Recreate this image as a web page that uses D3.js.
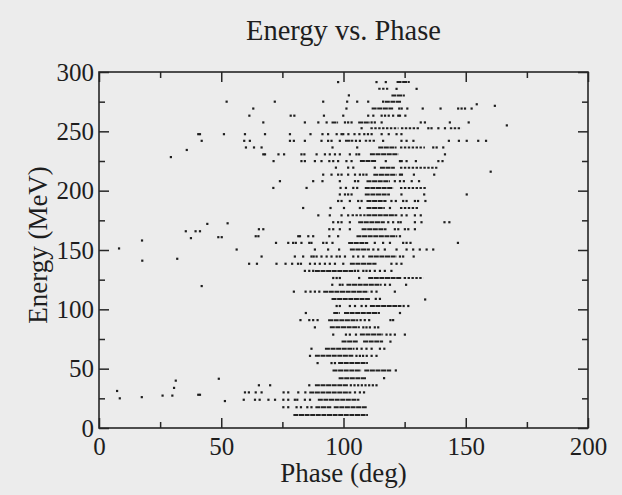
<!DOCTYPE html>
<html><head><meta charset="utf-8">
<script src="https://cdn.jsdelivr.net/npm/d3@7"></script>
<style>html,body{margin:0;padding:0;background:#ececec;} svg{display:block}</style>
</head><body><svg id="c" width="622" height="495"></svg>
<script>
// ---- data (phase in deg, energy in MeV) ----
const title = "Energy vs. Phase";
const xLabel = "Phase (deg)";
const yLabel = "Energy (MeV)";
const xTicks = [0, 50, 100, 150, 200];
const xMinor = [25, 75, 125, 175];
const yTicks = [0, 50, 100, 150, 200, 250, 300];
const yMinor = [25, 75, 125, 175, 225, 275];

const rowEnergy = [11, 17.5, 23.8, 30, 36, 42, 48.5, 54.7, 60.8, 66.8, 72.8, 78.7, 84.8, 90.9, 96.9,
  102.8, 108.8, 114.9, 120.7, 126.4, 132.4, 138.4, 144.5, 150.4, 156, 161.6, 167.5, 173.4, 179.2,
  185.4, 191.3, 196.8, 202.3, 208, 213.5, 219.4, 224.9, 230.6, 236.4, 242, 247.6, 252.6, 257.5,
  263.2, 269.2, 275, 280.3, 285.8, 291.5];

const rowDots = [
  [],
  [75.4, 77.4, 80.8, 82.6, 85.2, 86.9],
  [59.2, 63.8, 65.7, 69.3, 72, 75.4, 77.4, 80.1, 81.1, 84.2, 86.3],
  [59.7, 61.3, 64.1, 66.5, 75.5, 77.4, 81.5, 84.4, 104.7, 106.7, 108.4],
  [65.4, 70, 86, 103, 104.5, 106, 107.5, 109, 110.5, 112, 113.5],
  [116.6],
  [121.4],
  [89.4, 95.1, 96.5],
  [86.3, 105.3, 106.7, 108, 109.5, 111.5, 113.5],
  [86.9, 105.5, 107.4, 109.4, 111.5, 114.9, 116.7],
  [119.2],
  [95.8, 101, 102.6, 105.1, 117.6, 119.2, 121, 125.1],
  [88.3, 108.1, 109.4, 110.8, 112.8, 114.2],
  [82.4, 86, 87.6, 89.4, 107, 108.7, 110.5, 119.2, 120.3],
  [84.6, 123.1],
  [97.2, 98.5, 102.6, 104.7, 107.4, 109.2, 124.6, 126.5],
  [113.2, 114.9],
  [79.7, 84.5, 86.5, 88.3, 90.1, 111.5, 113.5, 121],
  [95.4, 98.5, 99.6, 117, 119, 125.6],
  [95.8, 97.2, 98.5, 106.4],
  [84.2, 86, 87.6, 104.7, 106, 108.1, 109.4, 110.8, 112.8, 114.9, 116.9, 119.6],
  [61.4, 64.6, 72.6, 76.3, 79, 81.4, 82.6, 86.3, 88.3, 90.3, 92.4, 94.4, 96.5, 99.9, 119.6, 121.7, 123.7],
  [66.5, 80.1, 83.5, 86.9, 87.8, 89, 91, 93.1, 95.1, 97.2, 98.5, 100.6, 104, 106, 108.1, 123.1, 124.4, 128.7],
  [56.3, 88.3, 93.7, 98.2, 112.2, 114.2, 116.9, 121.7, 125.8, 128.5, 131.2, 134, 136.7],
  [72.4, 77.4, 79.4, 80.5, 82.8, 86, 86.9, 91.7, 93.1, 95.5, 112.8, 116.2, 119, 124.4, 125.8, 127.4, 146.8],
  [64.1, 65.2, 81.5, 82.2, 85.6, 87.6, 94.2, 97.8, 123.1],
  [65.4, 67.2, 94.2, 95.8, 98.5, 102.6, 121, 122.4, 125.1, 126.5, 129.2],
  [95.8, 97.8, 99.2, 102.6, 118.3, 120.3, 122.4, 123.4, 129.2, 131.9, 141.3, 143.3],
  [89.7, 94.4, 99.2, 101.9, 123.8, 125.8, 129.2, 131.6],
  [83.5, 94.7, 100.2, 106.7, 119],
  [97.8, 99.2, 102.6, 106, 107.4, 119.6, 121.4, 124.4, 125.8, 129.2, 130.5, 133.5],
  [98.5, 100.6, 101.9, 103.3, 123.7, 133, 150.4],
  [71.3, 84.9, 98.8, 101, 104, 105.6],
  [74, 87.6, 91.4, 98.5, 104.7, 106, 121, 123.1, 124.7, 127.9, 130.9],
  [91.7, 95.1, 97.8, 99.2, 101.9, 104.7, 106.7, 108.1, 109.4, 123.1, 123.9, 128.8, 137.1],
  [96.9, 101.9, 104, 112.8],
  [71.4, 82.8, 84.2, 88.3, 91, 94.2, 95.8, 97.8, 101.2, 103.3, 117.3, 123.1, 123.8, 125.8, 129.6, 138.8, 140.5],
  [67.2, 67.9, 73.4, 75.7, 82.8, 84, 89, 92.4, 94.4, 96.5, 98.5, 102.6, 105.3, 106.4, 141.5],
  [60.1, 63.4, 66.5, 95.5, 105.6, 136.7, 138.1, 140.8],
  [42, 59.4, 61.7, 78.1, 79.7, 84.2, 91, 93.7, 95.1, 98.5, 105.1, 106.7, 116.2, 123.7, 125.8, 128.6, 143.1, 147.2, 150.4, 155.1, 158.3],
  [40.6, 41.3, 51.1, 59.7, 67.9, 78.1, 86.5, 91.4, 93.7, 97.2, 99.2, 99.9, 102, 104.5, 106.5, 108.5, 110, 111.5, 115.6, 118.5, 121.7, 123.7],
  [107.4, 134.7, 136, 138.8, 141.5],
  [67.2, 84.2, 89.7, 93.1, 100.6, 101.9, 103.3, 111.5, 112.8, 115.6, 131.6, 133.3, 143.5, 151.2],
  [61.5, 78.4, 79.9, 92, 99.9, 110.1, 112.2, 115.6, 117, 118.5, 120.3, 122.4, 123.1, 125.3],
  [63.1, 101.2, 122.8, 123.8, 126.1, 132.4, 139.7, 146.9, 148.3, 149.7, 152.4],
  [52.2, 71.9, 91.7, 101.5, 105.6, 110.1, 116.2],
  [102.2],
  [121.7, 129.9],
  [97.8, 113.5, 117.3]
];

// dense runs of overlapping dots: [start, end] phase
const rowRuns = [
  [[79.5,110]], [[88.5,95],[96,109.5]], [[89.5,106.5]], [[86,103.2]], [[88.3,102]],
  [[98,109.2]], [[95.5,107.2],[108.5,119.5]], [[97.8,110]], [[88.3,104]], [[92.4,104.5]],
  [[99.2,106],[108,116.2]], [[106.7,116.2]], [[94.4,106.7]], [[93.7,106]], [[95.8,98.5],[100.2,114.9]],
  [[110.8,123.7]], [[95.1,110.8]], [[91.7,110.1]], [[101.2,115.6]], [[110.1,123.7]],
  [[88.3,104]], [[102.6,113.5]], [[110.1,121.7]], [[102.6,110.8]], [[101.9,110.1]],
  [[105.3,122]], [[107.4,117.6]], [[106,116.9]], [[109.4,122]], [[109.4,116.9]],
  [[109.4,117.6]], [[108.7,119]], [[108.7,120.3]], [[109.4,119]], [[112.2,121.7]],
  [[114.9,121]], [[106.7,113.5]], [[110.8,122.4]], [[114.2,121.7]], [[100.6,104]],
  [], [], [[95.1,97.8],[106,110.8]], [], [[111.5,120.3]],
  [[116.9,123.7]], [[119.6,125.1]], [], [[121.7,127.1]]
];

// looser runs (dots close but not touching)
const rowLoose = [
  [], [], [], [], [], [], [], [], [], [],
  [], [], [], [], [], [], [], [], [], [[124.6,132.6]],
  [], [], [], [], [], [], [], [], [[103.3,109]], [[123.1,130.6]],
  [], [], [[123.1,134]], [], [], [[123.1,138.4]], [], [], [[123.1,133.3]], [[108.7,113.5]],
  [], [[111,122.5],[123.5,131.3],[143.5,148.3]], [], [], [], [], [], [[114.2,118.3]], []
];

// isolated points off the main rows
const extraPhase = [8.2, 17.7, 17.6, 32, 42, 37.6, 48.8, 50.2, 35.5, 39.5, 41.3, 44.3, 52.6, 35.9, 29.4,
  7.4, 8.5, 17.5, 26, 30, 30.7, 31.4, 40.6, 41.3, 49, 51.5, 133.4, 154.5, 161.9, 166.8, 160.2];
const extraEnergy = [151.3, 141, 158, 142.6, 119.6, 160, 160.8, 160.8, 165.8, 165.8, 165.8, 172, 172.5, 234.3, 228.3,
  31.2, 25, 26, 27.3, 27.3, 33.8, 39.9, 28, 28, 41.5, 22.7, 108.3, 272.8, 271.5, 255, 216];

// ---- drawing ----
const W = 622, H = 495;
const svg = d3.select('#c');
svg.append('rect').attr('width', W).attr('height', H).attr('fill', '#ececec');

const L = 99, R = 588, T = 72, B = 428;
const x = d3.scaleLinear().domain([0, 200]).range([L, R]);
const y = d3.scaleLinear().domain([0, 300]).range([B, T]);
const font = '"Liberation Serif","Times New Roman",Times,serif';
const ink = '#262626';

function styleAxis(g) {
  g.select('.domain').remove();
  g.selectAll('.tick line').attr('stroke', ink).attr('stroke-width', 1.5);
  g.selectAll('.tick text').attr('fill', '#1e1e1e').attr('font-family', font).attr('font-size', 25);
}
// bottom
svg.append('g').attr('transform', `translate(0,${B})`)
  .call(d3.axisBottom(x).tickValues(xTicks).tickSize(-10).tickPadding(9).tickFormat(d3.format('d'))).call(styleAxis);
svg.append('g').attr('transform', `translate(0,${B})`)
  .call(d3.axisBottom(x).tickValues(xMinor).tickSize(-6).tickFormat('')).call(styleAxis);
// top
svg.append('g').attr('transform', `translate(0,${T})`)
  .call(d3.axisTop(x).tickValues(xTicks).tickSize(-10).tickFormat('')).call(styleAxis);
svg.append('g').attr('transform', `translate(0,${T})`)
  .call(d3.axisTop(x).tickValues(xMinor).tickSize(-6).tickFormat('')).call(styleAxis);
// left
svg.append('g').attr('transform', `translate(${L},0)`)
  .call(d3.axisLeft(y).tickValues(yTicks).tickSize(-10).tickPadding(5).tickFormat(d3.format('d'))).call(styleAxis);
svg.append('g').attr('transform', `translate(${L},0)`)
  .call(d3.axisLeft(y).tickValues(yMinor).tickSize(-6).tickFormat('')).call(styleAxis);
// right
svg.append('g').attr('transform', `translate(${R},0)`)
  .call(d3.axisRight(y).tickValues(yTicks).tickSize(-10).tickFormat('')).call(styleAxis);
svg.append('g').attr('transform', `translate(${R},0)`)
  .call(d3.axisRight(y).tickValues(yMinor).tickSize(-6).tickFormat('')).call(styleAxis);

// frame
svg.append('rect').attr('x', L).attr('y', T).attr('width', R - L).attr('height', B - T)
  .attr('fill', 'none').attr('stroke', ink).attr('stroke-width', 1.6);

// marks
const dotG = svg.append('g').attr('fill', '#1e1e1e');
const runG = svg.append('g').attr('stroke', '#222').attr('stroke-width', 2);
const s = 2.2;
rowEnergy.forEach((e, i) => {
  rowDots[i].forEach(p => {
    dotG.append('rect').attr('x', x(p) - s / 2).attr('y', y(e) - s / 2).attr('width', s).attr('height', s);
  });
  rowRuns[i].forEach(r => {
    runG.append('line').attr('x1', x(r[0])).attr('x2', x(r[1])).attr('y1', y(e)).attr('y2', y(e))
      .attr('stroke-dasharray', '5,0.6');
  });
  rowLoose[i].forEach(r => {
    runG.append('line').attr('x1', x(r[0])).attr('x2', x(r[1])).attr('y1', y(e)).attr('y2', y(e))
      .attr('stroke-dasharray', '2.4,1.5');
  });
});
extraPhase.forEach((p, i) => {
  dotG.append('rect').attr('x', x(p) - s / 2).attr('y', y(extraEnergy[i]) - s / 2).attr('width', s).attr('height', s);
});

// titles
svg.append('text').attr('x', (L + R) / 2).attr('y', 40).attr('text-anchor', 'middle')
  .attr('font-family', font).attr('font-size', 28.5).attr('fill', '#1e1e1e').text(title);
svg.append('text').attr('x', (L + R) / 2).attr('y', 482).attr('text-anchor', 'middle')
  .attr('font-family', font).attr('font-size', 27).attr('fill', '#1e1e1e').text(xLabel);
svg.append('text').attr('transform', `translate(47,245) rotate(-90)`).attr('text-anchor', 'middle')
  .attr('font-family', font).attr('font-size', 27).attr('fill', '#1e1e1e').text(yLabel);
</script></body></html>
